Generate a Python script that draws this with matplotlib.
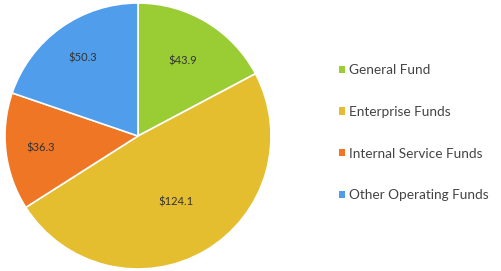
import numpy as np
import matplotlib.pyplot as plt
from matplotlib.patches import Patch

labels = ['General Fund', 'Enterprise Funds', 'Internal Service Funds', 'Other Operating Funds']
values = [43.9, 124.1, 36.3, 50.3]
colors = ['#9ACD34', '#E5BE30', '#EE7624', '#4F9DEB']
label_dist = [0.66, 0.57, 0.74, 0.72]

plt.rcParams['font.family'] = ['Lato', 'DejaVu Sans']

fig = plt.figure(figsize=(5.01, 2.71), dpi=100)
ax = fig.add_axes([5 / 501, 2 / 271, 266 / 501, 266 / 271])
wedges, _ = ax.pie(values, colors=colors, startangle=90, counterclock=False,
                   wedgeprops=dict(edgecolor='white', linewidth=1.2))
ax.set_xlim(-1, 1)
ax.set_ylim(-1, 1)
ax.set_aspect('equal')

for w, v, d in zip(wedges, values, label_dist):
    ang = np.deg2rad((w.theta1 + w.theta2) / 2)
    ax.text(d * np.cos(ang), d * np.sin(ang), '$%.1f' % v, ha='center', va='center',
            fontsize=8, color='#333333')

handles = [Patch(facecolor=c, edgecolor='none') for c in colors]
fig.legend(handles, labels, loc='center left', bbox_to_anchor=(327 / 501, 0.51),
           frameon=False, fontsize=9.8, labelspacing=2.18, handlelength=0.45, handleheight=0.45,
           handletextpad=0.3, labelcolor='#444444')

fig.savefig('out.png', dpi=100)
